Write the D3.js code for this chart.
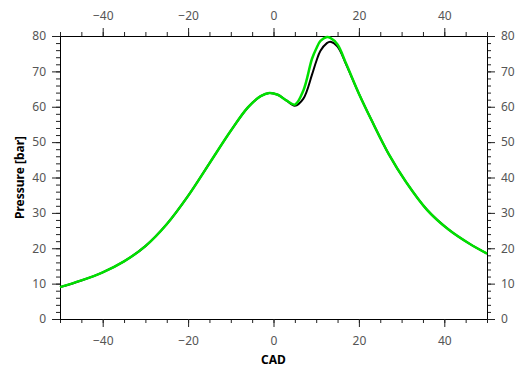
<!DOCTYPE html>
<html>
<head>
<meta charset="utf-8">
<script src="https://cdn.jsdelivr.net/npm/d3@7"></script>
<style>
  body { margin: 0; background: #fff; }
  svg { display: block; }
  .tick text { font-family: "Noto Sans", sans-serif; font-size: 12px; fill: #555; }
  .tick line { stroke: #222; }
  .domain { stroke: #000; }
  .axisTitle { font-family: "Noto Sans", sans-serif; font-size: 12px; font-weight: bold; fill: #000; }
</style>
</head>
<body>
<div id="chart"></div>
<script>
// crank angle and pressure traces
var cad = [-50, -45, -40, -35, -30, -25, -20, -15, -10, -6, -3, -1, 1, 3, 5, 7, 9, 10, 11, 12.5, 13.3, 15, 17, 20, 23, 27, 31, 36, 41, 46, 50];
var pressureExp = [9.0, 10.9, 13.2, 16.3, 20.6, 26.8, 34.8, 44.0, 53.2, 59.8, 63.0, 63.9, 63.4, 61.8, 60.3, 62.3, 69.0, 72.8, 75.8, 78.0, 78.4, 77.0, 72.0, 63.7, 56.1, 46.6, 38.8, 30.8, 25.3, 21.2, 18.5];
var pressureSim = [9.0, 10.9, 13.2, 16.3, 20.6, 26.8, 34.8, 44.0, 53.2, 59.8, 63.0, 63.9, 63.4, 61.8, 60.6, 64.6, 73.5, 76.4, 78.6, 79.7, 79.5, 77.6, 72.2, 63.7, 56.1, 46.6, 38.8, 30.8, 25.3, 21.2, 18.5];

var xMajor = [-40, -20, 0, 20, 40];
var xMinor = d3.range(-50, 51, 5);
var yMajor = [0, 10, 20, 30, 40, 50, 60, 70, 80];
var yMinor = d3.range(0, 81, 2);

var svgWidth = 522, svgHeight = 367;
var margin = { top: 36, right: 35, bottom: 48, left: 60 };
var width = svgWidth - margin.left - margin.right;
var height = svgHeight - margin.top - margin.bottom;

var svg = d3.select("#chart")
  .append("svg")
  .attr("width", svgWidth)
  .attr("height", svgHeight);

var chartGroup = svg.append("g")
  .attr("transform", `translate(${margin.left}, ${margin.top})`);

var xScale = d3.scaleLinear().domain([-50, 50]).range([0, width]);
var yScale = d3.scaleLinear().domain([0, 80]).range([height, 0]);

var fmt = d3.format("d");
var minus = d => fmt(d).replace("-", "\u2212");

// minor ticks first
chartGroup.append("g").attr("transform", `translate(0, ${height})`)
  .call(d3.axisBottom(xScale).tickValues(xMinor).tickSize(4).tickSizeOuter(0).tickFormat(""));
chartGroup.append("g")
  .call(d3.axisTop(xScale).tickValues(xMinor).tickSize(4).tickSizeOuter(0).tickFormat(""));
chartGroup.append("g")
  .call(d3.axisLeft(yScale).tickValues(yMinor).tickSize(4).tickSizeOuter(0).tickFormat(""));
chartGroup.append("g").attr("transform", `translate(${width}, 0)`)
  .call(d3.axisRight(yScale).tickValues(yMinor).tickSize(4).tickSizeOuter(0).tickFormat(""));

// major ticks with labels
chartGroup.append("g").attr("transform", `translate(0, ${height})`)
  .call(d3.axisBottom(xScale).tickValues(xMajor).tickSize(8).tickPadding(9).tickSizeOuter(0).tickFormat(minus));
chartGroup.append("g")
  .call(d3.axisTop(xScale).tickValues(xMajor).tickSize(8).tickPadding(8).tickSizeOuter(0).tickFormat(minus));
chartGroup.append("g")
  .call(d3.axisLeft(yScale).tickValues(yMajor).tickSize(8).tickPadding(6).tickSizeOuter(0).tickFormat(fmt));
chartGroup.append("g").attr("transform", `translate(${width}, 0)`)
  .call(d3.axisRight(yScale).tickValues(yMajor).tickSize(8).tickPadding(6).tickSizeOuter(0).tickFormat(fmt));

var line = d3.line()
  .x((d, i) => xScale(cad[i]))
  .y(d => yScale(d))
  .curve(d3.curveCatmullRom.alpha(0.5));

chartGroup.append("path")
  .attr("d", line(pressureExp))
  .attr("fill", "none")
  .attr("stroke", "#000")
  .attr("stroke-width", 2);

chartGroup.append("path")
  .attr("d", line(pressureSim))
  .attr("fill", "none")
  .attr("stroke", "#00e000")
  .attr("stroke-width", 2.5);

// axis titles
chartGroup.append("text")
  .attr("class", "axisTitle")
  .attr("transform", "rotate(-90)")
  .attr("x", -height / 2)
  .attr("y", -margin.left + 24)
  .attr("text-anchor", "middle")
  .text("Pressure [bar]");

chartGroup.append("text")
  .attr("class", "axisTitle")
  .attr("x", width / 2)
  .attr("y", height + 45)
  .attr("text-anchor", "middle")
  .text("CAD");
</script>
</body>
</html>
